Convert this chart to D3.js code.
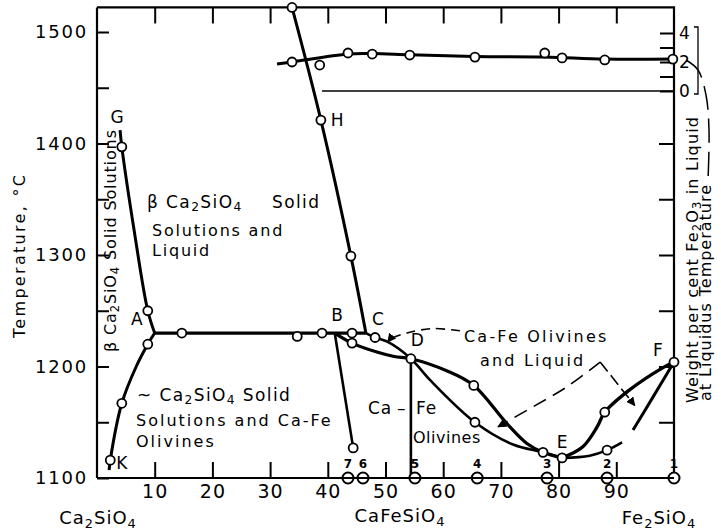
<!DOCTYPE html>
<html>
<head>
<meta charset="utf-8">
<script src="https://cdn.jsdelivr.net/npm/d3@7"></script>
<style>
  body { margin: 0; background: #fff; }
  svg { display: block; font-family: "DejaVu Sans", sans-serif; }
</style>
</head>
<body>
<svg id="chart" width="721" height="532"></svg>
<script>
// composition in weight per cent Fe2SiO4, temperature in °C
const compTicks = [10, 20, 30, 40, 50, 60, 70, 80, 90]
const tempTicks = [1100, 1150, 1200, 1250, 1300, 1350, 1400, 1450, 1500]
const tempLabels = [1100, 1200, 1300, 1400, 1500]
const rightTempTicks = [1150, 1200, 1250, 1300, 1350, 1400]
const fe2o3Ticks = [0, 1, 2, 3, 4]
const fe2o3Labels = [0, 2, 4]

const curveG = [[4.0, 1412], [4.3, 1397], [6.5, 1320], [8.8, 1250], [10.0, 1230]]
const curveK = [[2.1, 1107], [2.3, 1116], [4.3, 1167], [6.8, 1200], [8.8, 1220], [10.0, 1230]]
const tieLine = [[10.0, 1230], [46.6, 1230]]
const liquidusH = [[33.8, 1522], [38.8, 1421], [44.0, 1299], [46.6, 1230]]
const lineB = [[41.2, 1230], [44.4, 1127]]
const lineD = [[54.4, 1207], [54.4, 1100]]
const curveCE = [[46.6, 1230], [48.2, 1226], [50.4, 1222], [54.4, 1207], [57.7, 1188],
  [65.5, 1150], [72.1, 1130], [77.3, 1123], [80.6, 1118]]
const curveBE = [[41.2, 1230], [44.2, 1221], [48.5, 1213], [51.5, 1209], [54.4, 1207],
  [60.7, 1196], [65.3, 1183], [71.0, 1149], [74.5, 1131], [77.3, 1123], [80.6, 1118]]
const curveEF = [[80.6, 1118], [84.2, 1128], [86.7, 1146], [88.0, 1159], [92.3, 1179],
  [98.1, 1199], [100, 1204]]
const curveEFLow1 = [[80.6, 1118], [85.4, 1120], [88.4, 1125], [91.0, 1132]]
const curveEFLow2 = [[92.9, 1143], [96.4, 1173], [100, 1204]]

const liqPoints = [[33.8, 1522], [38.8, 1421], [44.0, 1299], [4.3, 1397], [8.8, 1250],
  [8.8, 1220], [4.3, 1167], [2.3, 1116], [14.7, 1230], [34.7, 1227], [39.0, 1230],
  [44.2, 1230], [44.2, 1221], [44.4, 1127], [48.2, 1226], [54.4, 1207], [65.3, 1183],
  [65.5, 1150], [77.3, 1123], [80.6, 1118], [88.0, 1159], [88.4, 1125], [100, 1204]]

// Fe2O3 in liquid at liquidus temperature (wt %)
const fe2o3Line = [[31.2, 1.86], [33.8, 2.0], [43.5, 2.55], [47.7, 2.58], [54.2, 2.5],
  [65.5, 2.38], [77.6, 2.34], [88.0, 2.2], [100, 2.2]]
const fe2o3Points = [[33.8, 2.0], [38.6, 1.79], [43.5, 2.62], [47.7, 2.55], [54.2, 2.48],
  [65.5, 2.34], [77.6, 2.62], [80.6, 2.28], [88.0, 2.14], [99.8, 2.2]]

const sampleComp = [43.5, 46.1, 55.1, 65.9, 78.0, 88.4, 100]
const sampleNo = ['7', '6', '5', '4', '3', '2', '1']

const arrowToCD = [[62.9, 1232], [58.2, 1234], [53.7, 1230], [51.0, 1225], [50.4, 1222]]
const arrowToDE = [[87.2, 1204], [81.5, 1182], [75.6, 1164], [69.5, 1146]]
const arrowToEF = [[87.2, 1204], [93.2, 1165]]

const svg = d3.select('#chart')
const x = d3.scaleLinear().domain([0, 100]).range([97, 674])
const y = d3.scaleLinear().domain([1100, 1500]).range([478, 32])
const w = d3.scaleLinear().domain([0, 4]).range([91, 33])
const frameTop = y(1522)

svg.append('defs').append('marker')
  .attr('id', 'arr')
  .attr('viewBox', '0 0 10 10')
  .attr('refX', 9).attr('refY', 5)
  .attr('markerWidth', 9).attr('markerHeight', 9)
  .attr('markerUnits', 'userSpaceOnUse')
  .attr('orient', 'auto')
  .append('path').attr('d', 'M0,0L10,5L0,10z').attr('fill', '#000')

function styleAxis(g) {
  g.select('.domain').remove()
  g.selectAll('line').attr('stroke', '#000').attr('stroke-width', 2)
  g.selectAll('text').attr('fill', '#000').attr('font-family', '"DejaVu Sans", sans-serif')
}

// axes (ticks point inward)
svg.append('g').attr('transform', `translate(${x(0)},0)`)
  .call(d3.axisLeft(y).tickValues(tempTicks).tickSize(-12).tickPadding(9)
    .tickFormat(d => tempLabels.includes(d) ? d : ''))
  .call(styleAxis)
  .selectAll('text').attr('font-size', 18).attr('letter-spacing', 1.8)

svg.append('g').attr('transform', `translate(${x(100)},0)`)
  .call(d3.axisRight(y).tickValues(rightTempTicks).tickSize(-15).tickFormat(''))
  .call(styleAxis)

svg.append('g').attr('transform', `translate(${x(100)},0)`)
  .call(d3.axisRight(w).tickValues(fe2o3Ticks).tickSize(-14).tickPadding(5)
    .tickFormat(d => fe2o3Labels.includes(d) ? d : ''))
  .call(styleAxis)
  .selectAll('text').attr('font-size', 17)

svg.append('g').attr('transform', `translate(0,${frameTop})`)
  .call(d3.axisTop(x).tickValues(compTicks).tickSize(-16).tickFormat(''))
  .call(styleAxis)

svg.append('g').attr('transform', `translate(0,${y(1100)})`)
  .call(d3.axisBottom(x).tickValues(compTicks).tickSize(-16).tickPadding(7))
  .call(styleAxis)
  .selectAll('text').attr('font-size', 19).attr('letter-spacing', 1)

// frame
svg.append('path')
  .attr('d', `M${x(0)},${frameTop}H${x(100)}V${y(1100)}M${x(0)},${frameTop}V${y(1100)}`)
  .attr('fill', 'none').attr('stroke', '#000').attr('stroke-width', 2.2)

// Fe2O3 baseline and bracket
svg.append('line')
  .attr('x1', x(39)).attr('x2', x(100)).attr('y1', w(0)).attr('y2', w(0))
  .attr('stroke', '#000').attr('stroke-width', 1.6)
svg.append('path')
  .attr('d', `M${x(100) + 20},${w(4) - 6}h4V${w(0) + 3}h-4`)
  .attr('fill', 'none').attr('stroke', '#000').attr('stroke-width', 1.3)

const smooth = d3.line().x(d => x(d[0])).y(d => y(d[1])).curve(d3.curveCatmullRom.alpha(0.5))
const straight = d3.line().x(d => x(d[0])).y(d => y(d[1]))

function draw(data, gen, width, dash, marker) {
  const p = svg.append('path')
    .attr('d', gen(data))
    .attr('fill', 'none')
    .attr('stroke', '#000')
    .attr('stroke-width', width)
    .attr('stroke-linejoin', 'round')
  if (dash) p.attr('stroke-dasharray', dash)
  if (marker) p.attr('marker-end', 'url(#arr)')
  return p
}

draw(curveG, smooth, 3)
draw(curveK, smooth, 3)
draw(tieLine, straight, 3.2)
draw(liquidusH, smooth, 3)
draw(lineB, straight, 2.6)
draw(lineD, straight, 2.6)
draw(curveCE, smooth, 2.6)
draw(curveBE, smooth, 3.2)
draw(curveEF, smooth, 3.4)
draw(curveEFLow1, smooth, 2.6)
draw(curveEFLow2, smooth, 3)

// Fe2O3 curve
svg.append('path')
  .attr('d', d3.line().x(d => x(d[0])).y(d => w(d[1])).curve(d3.curveCatmullRom)(fe2o3Line))
  .attr('fill', 'none').attr('stroke', '#000').attr('stroke-width', 3)

// dashed pointers
draw(arrowToCD, smooth, 1.6, '9,6', true)
draw(arrowToDE, smooth, 1.6, '14,8', true)
draw(arrowToEF, straight, 1.6, '12,5', true)
svg.append('path')
  .attr('d', d3.line().curve(d3.curveCatmullRom)([[686, 60], [698, 70], [706, 95], [709, 130], [708, 180]]))
  .attr('fill', 'none').attr('stroke', '#000').attr('stroke-width', 1.5)
  .attr('stroke-dasharray', '24,9')

// points
svg.append('g').selectAll('circle')
  .data(liqPoints).join('circle')
  .attr('cx', d => x(d[0])).attr('cy', d => y(d[1])).attr('r', 4.5)
  .attr('fill', '#fff').attr('stroke', '#000').attr('stroke-width', 1.8)

svg.append('g').selectAll('circle')
  .data(fe2o3Points).join('circle')
  .attr('cx', d => x(d[0])).attr('cy', d => w(d[1])).attr('r', 4.5)
  .attr('fill', '#fff').attr('stroke', '#000').attr('stroke-width', 1.8)

// sample compositions on the base line
svg.append('g').selectAll('circle')
  .data(sampleComp).join('circle')
  .attr('cx', d => x(d)).attr('cy', y(1100)).attr('r', 5.5)
  .attr('fill', '#fff').attr('stroke', '#000').attr('stroke-width', 2)
svg.append('line')
  .attr('x1', x(0)).attr('x2', x(100)).attr('y1', y(1100)).attr('y2', y(1100))
  .attr('stroke', '#000').attr('stroke-width', 2.2)
svg.append('g').selectAll('text')
  .data(sampleComp).join('text')
  .attr('x', d => x(d)).attr('y', y(1100) - 10)
  .attr('text-anchor', 'middle').attr('font-size', 12).attr('font-weight', 'bold')
  .text((d, i) => sampleNo[i])

// text helpers
function chem(sel, parts) {
  parts.forEach(([t, sub]) => {
    const s = sel.append('tspan').text(t)
    if (sub) s.attr('baseline-shift', '-28%').attr('font-size', '72%')
  })
  return sel
}
function label(px, py, size, parts, spacing, anchor) {
  const t = svg.append('text').attr('x', px).attr('y', py)
    .attr('font-size', size).attr('letter-spacing', spacing || 0)
    .attr('text-anchor', anchor || 'start')
  return chem(t, parts)
}
function vlabel(px, py, size, parts, length, anchor) {
  const t = svg.append('text').attr('transform', `translate(${px},${py}) rotate(-90)`)
    .attr('font-size', size).attr('text-anchor', anchor || 'start')
  if (length) t.attr('textLength', length).attr('lengthAdjust', 'spacing')
  return chem(t, parts)
}

// point letters
;[['G', 3.5, 1424], ['H', 41.6, 1421], ['A', 6.9, 1243], ['B', 41.6, 1246], ['C', 48.7, 1243],
  ['D', 55.5, 1224], ['E', 80.6, 1132], ['F', 97.2, 1215], ['K', 4.3, 1114]].forEach(([t, cx, ct]) => {
  svg.append('text').attr('x', x(cx)).attr('y', y(ct)).attr('dy', '0.36em')
    .attr('text-anchor', 'middle').attr('font-size', 17).text(t)
})

// field labels
label(147, 208, 17, [['β Ca', 0], ['2', 1], ['SiO', 0], ['4', 1]], 1.4)
label(272, 208, 17, [['Solid', 0]], 1.4)
label(152, 236, 16, [['Solutions and', 0]], 1.8)
label(152, 256, 16, [['Liquid', 0]], 1.8)

label(137, 401, 17, [['~ Ca', 0], ['2', 1], ['SiO', 0], ['4', 1], [' Solid', 0]], 1.4)
label(136, 426, 16, [['Solutions and Ca-Fe', 0]], 2)
label(136, 447, 16, [['Olivines', 0]], 2)

label(464, 342, 16, [['Ca-Fe Olivines', 0]], 2.2)
label(480, 366, 16, [['and Liquid', 0]], 2.2)

label(368, 414, 17, [['Ca', 0]], 1)
label(397, 414, 17, [['–', 0]])
label(416, 414, 17, [['Fe', 0]], 1)
label(413, 443, 16, [['Olivines', 0]], 0.5)

vlabel(116, 352, 16, [['β Ca', 0], ['2', 1], ['SiO', 0], ['4', 1], [' Solid Solutions', 0]], 222)

// axis titles
vlabel(25, 338, 16, [['Temperature, °C', 0]], 163)
vlabel(698, 403, 16, [['Weight per cent Fe', 0], ['2', 1], ['O', 0], ['3', 1], [' in Liquid', 0]], 286)
vlabel(711, 401, 16, [['at Liquidus Temperature', 0]], 216)

label(98, 524, 18, [['Ca', 0], ['2', 1], ['SiO', 0], ['4', 1]], 1, 'middle')
label(400, 522, 18, [['CaFeSiO', 0], ['4', 1]], 1, 'middle')
label(659, 524, 18, [['Fe', 0], ['2', 1], ['SiO', 0], ['4', 1]], 1, 'middle')
</script>
</body>
</html>
